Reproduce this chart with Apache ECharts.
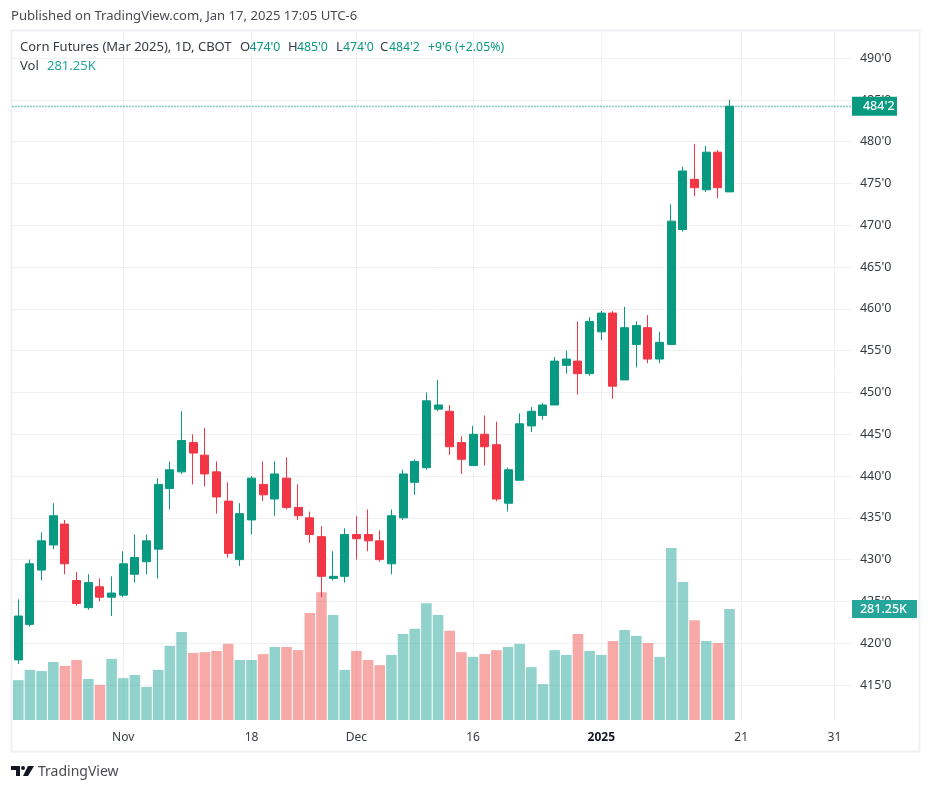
<!DOCTYPE html>
<html>
<head>
<meta charset="utf-8">
<style>html,body{margin:0;padding:0;background:#fff}#c{width:931px;height:791px}</style>
<script src="https://cdn.jsdelivr.net/npm/echarts@6/dist/echarts.min.js"></script>
</head>
<body>
<div id="c"></div>
<script>
const categories = ["Oct 21","Oct 22","Oct 23","Oct 24","Oct 25","Oct 28","Oct 29","Oct 30","Oct 31","Nov 1",
"Nov 4","Nov 5","Nov 6","Nov 7","Nov 8","Nov 11","Nov 12","Nov 13","Nov 14","Nov 15",
"Nov 18","Nov 19","Nov 20","Nov 21","Nov 22","Nov 25","Nov 26","Nov 27","Nov 29",
"Dec 2","Dec 3","Dec 4","Dec 5","Dec 6","Dec 9","Dec 10","Dec 11","Dec 12","Dec 13",
"Dec 16","Dec 17","Dec 18","Dec 19","Dec 20","Dec 23","Dec 24","Dec 26","Dec 27","Dec 30","Dec 31",
"Jan 2","Jan 3","Jan 6","Jan 7","Jan 8","Jan 9","Jan 10","Jan 13","Jan 14","Jan 15","Jan 16","Jan 17",
"Jan 21","Jan 22","Jan 23","Jan 24","Jan 27","Jan 28","Jan 29","Jan 30","Jan 31","Feb 3"];
const tickLabels = {"Nov 1":"Nov","Nov 18":"18","Dec 2":"Dec","Dec 16":"16","Jan 2":"2025","Jan 21":"21","Jan 31":"31"};
const priceTicks = [415,420,425,430,435,440,445,450,455,460,465,470,475,480,485,490];

const opens = [418,422.25,428.75,431.75,434.25,427.5,424.25,426.75,425.5,425.75,
428.25,429.75,431.25,438.5,440.5,444,442.5,440.5,437,430,
434.75,439,437.25,439.75,436.25,435,432.75,427.75,428,433,
433,432.25,429.5,435,439.25,441,448,447.75,444,441.25,
445,443.75,436.75,439.5,446,447.25,448.5,453.25,453.75,452.25,
457.25,459.5,451.5,455.75,457.75,454,455.75,469.5,475.5,474.25,478.75,474];
const closes = [423.25,429.5,432.25,435.25,429.5,424.75,427.25,425.5,426,429.5,
430.25,432.25,439,440.75,444.25,442.75,440.25,437.5,430.75,435.5,
439.75,437.75,440.25,436.25,435.25,433,428,428,433,432.5,
432.25,430,435.25,440.25,441.75,449,448.5,443.5,442,445,
443.5,437.25,440.75,446.25,447.75,448.5,453.75,454,452.25,458.5,
459.5,450.75,457.75,458,454,456,470.5,476.5,474.5,478.75,474.5,484.25];
const lows = [417.5,422,427.5,431.25,428.25,424.5,424,425,423.25,425.5,
427.25,428.25,427.75,436,440.25,439,438.75,435.5,430.25,429.25,
433,437,435.25,436,434.75,432,425.5,427.5,427.25,430,
431,429.75,428.25,434.75,437.75,440.75,447.75,442.5,440.25,441.25,
441.25,437,435.75,439.5,445.25,446.75,448.5,452.25,449.75,452,
456.25,449.25,451.5,453,453.5,453.5,455.75,469.25,473.5,474,473.25,474];
const highs = [425.25,430,433.25,436.75,434.75,428.5,428.25,427.75,428,431,
433,433,439.75,441.75,447.75,445,445.75,441.75,439.25,436.75,
440,441.75,441.75,442.25,439,435.75,434,431,433.75,435.25,
436,433.5,436,440.75,442,450,451.5,448.5,444.75,446,
447.25,446.5,441,447.5,448.25,448.75,454.25,455,458.5,459,
459.75,459.75,460.25,458.5,459.25,457.25,472.5,477,479.75,479.5,479,485];
const volumesK = [101,127,124,147,137,152,104,89,155,106,
114,84,127,188,223,170,172,175,193,152,
152,167,185,185,177,271,324,266,127,175,
152,139,165,218,231,296,266,226,172,160,
167,177,185,193,134,91,177,165,218,175,
165,200,228,213,195,160,436,350,253,200,195,281.25];

const UP='#089981',DOWN='#F23645',VOL_UP='rgba(38,166,154,0.5)',VOL_DOWN='rgba(239,83,80,0.5)';
const FONT='"Noto Sans",sans-serif', INK='#363a45', GRID='#f0f1f3';
const candles = opens.map((o,i)=>[o,closes[i],lows[i],highs[i]]);
const bars = volumesK.map((v,i)=>({value:v,itemStyle:{color:closes[i]>=opens[i]?VOL_UP:VOL_DOWN}}));
const fmtPrice = v=>{const w=Math.floor(v);return w+"'"+Math.round((v-w)*8);};
const headText=(x,y,text,fill,size)=>({type:'text',silent:true,z:10,left:x,top:y,style:{text,fill,fontFamily:FONT,fontSize:size}});

const chart = echarts.init(document.getElementById('c'),null,{renderer:'canvas'});
chart.setOption({
  animation:false,
  textStyle:{fontFamily:FONT},
  grid:{left:12.47,top:31,width:839.5,height:689,containLabel:false},
  xAxis:{type:'category',data:categories,boundaryGap:true,
    axisLine:{show:false},axisTick:{show:false},
    splitLine:{show:true,alignWithLabel:true,interval:(i,n)=>n in tickLabels,lineStyle:{color:GRID,width:1}},
    axisLabel:{interval:(i,n)=>n in tickLabels,margin:12,fontSize:12,color:INK,fontFamily:FONT,hideOverlap:false,
      formatter:n=>n==='Jan 2'?'{b|'+tickLabels[n]+'}':tickLabels[n],
      rich:{b:{fontWeight:'bold',fontSize:12,color:'#131722',fontFamily:FONT}}}},
  yAxis:[
    {type:'value',position:'right',min:410.81,max:493.25,scale:true,
     axisLine:{show:false},axisTick:{show:false,customValues:priceTicks},
     splitLine:{show:true,lineStyle:{color:GRID,width:1}},
     axisLabel:{customValues:priceTicks,formatter:fmtPrice,margin:8,fontSize:12.5,color:INK,fontFamily:FONT,showMinLabel:true,showMaxLabel:true}},
    {type:'value',min:0,max:1746,show:false,splitLine:{show:false}}
  ],
  series:[
    {name:'Volume',type:'bar',yAxisIndex:1,barWidth:10.6,data:bars,z:2,silent:true,
     markLine:{silent:true,symbol:'none',animation:false,
       lineStyle:{color:'rgba(0,0,0,0)',width:1},
       label:{show:true,position:'end',distance:0,formatter:'281.25K',color:'#fff',fontSize:12.5,fontFamily:FONT,fontWeight:500,
         backgroundColor:'#26a69a',padding:[2,0,2,8],width:57,height:14,lineHeight:14},
       data:[{yAxis:volumesK[volumesK.length-1]}]}},
    {name:'Corn',type:'candlestick',yAxisIndex:0,barWidth:8.5,data:candles,z:3,silent:true,
     itemStyle:{color:UP,color0:DOWN,borderColor:UP,borderColor0:DOWN,borderWidth:1},
     markLine:{silent:true,symbol:'none',animation:false,precision:2,
       lineStyle:{color:UP,type:[1,2],width:1.4,opacity:1},
       label:{position:'end',distance:0,formatter:"484'2",color:'#fff',fontSize:12.5,fontFamily:FONT,fontWeight:500,
         backgroundColor:UP,padding:[2,0,3,11],width:34,height:14,lineHeight:14},
       data:[{yAxis:closes[closes.length-1]}]}}
  ],
  graphic:[
    {type:'rect',silent:true,z:1,shape:{x:11.5,y:30.5,width:908,height:721},style:{fill:'none',stroke:'#f0f0f5',lineWidth:2}},
    headText(11,10,'Published on TradingView.com, Jan 17, 2025 17:05 UTC-6','#4a4a52',13.1),
    headText(20,41,'Corn Futures (Mar 2025), 1D, CBOT',INK,13),
    headText(240,41,'O',INK,13),
    headText(249.5,41,"474'0",UP,12.3),
    headText(288,41,'H',INK,13),
    headText(297,41,"485'0",UP,12.3),
    headText(336,41,'L',INK,13),
    headText(343,41,"474'0",UP,12.3),
    headText(380,41,'C',INK,13),
    headText(389,41,"484'2",UP,12.3),
    headText(428,41,"+9'6 (+2.05%)",UP,12.3),
    headText(20,60,'Vol',INK,13),
    headText(47,60,'281.25K','#26a69a',13),
    {type:'group',silent:true,left:11,top:766,children:[
      {type:'polygon',shape:{points:[[0,0],[9,0],[9,10],[5,10],[5,4],[0,4]]},style:{fill:'#131722'}},
      {type:'circle',shape:{cx:12,cy:2,r:2},style:{fill:'#131722'}},
      {type:'polygon',shape:{points:[[17,0],[23,0],[17,10],[12,10]]},style:{fill:'#131722'}}
    ]},
    headText(38,765,'TradingView','#4a4a52',14)
  ]
});
</script>
</body>
</html>
